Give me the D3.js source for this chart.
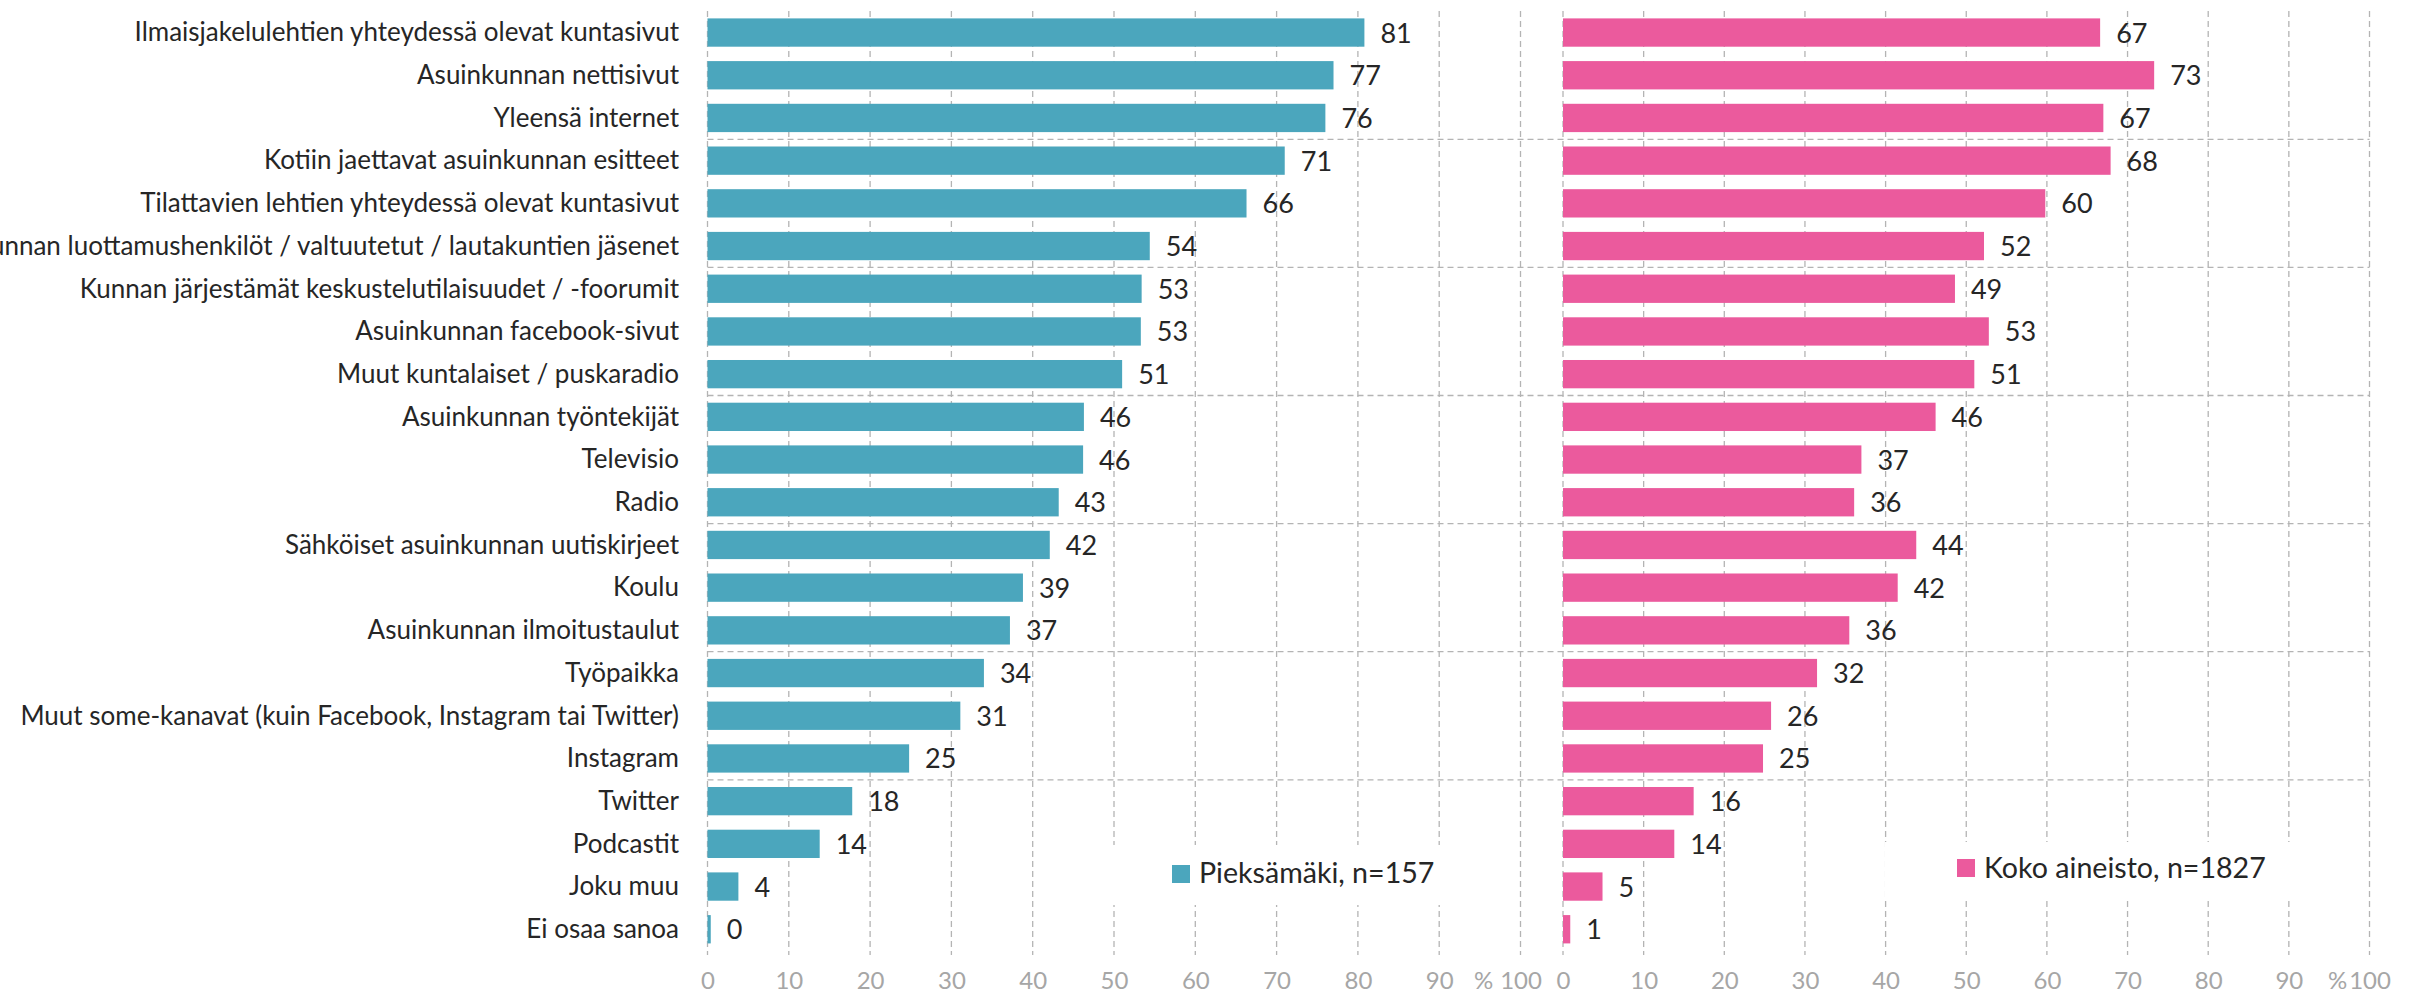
<!DOCTYPE html>
<html>
<head>
<meta charset="utf-8">
<script src="https://cdn.jsdelivr.net/npm/d3@7"></script>
<style>
  html, body { margin: 0; padding: 0; background: #ffffff; }
  svg { display: block; }
  text { font-family: Lato, "Open Sans", sans-serif; }
</style>
</head>
<body>
<svg id="chart" width="2409" height="995"></svg>
<script>
const categories = [
  "Ilmaisjakelulehtien yhteydessä olevat kuntasivut",
  "Asuinkunnan nettisivut",
  "Yleensä internet",
  "Kotiin jaettavat asuinkunnan esitteet",
  "Tilattavien lehtien yhteydessä olevat kuntasivut",
  "Kunnan luottamushenkilöt / valtuutetut / lautakuntien jäsenet",
  "Kunnan järjestämät keskustelutilaisuudet / -foorumit",
  "Asuinkunnan facebook-sivut",
  "Muut kuntalaiset / puskaradio",
  "Asuinkunnan työntekijät",
  "Televisio",
  "Radio",
  "Sähköiset asuinkunnan uutiskirjeet",
  "Koulu",
  "Asuinkunnan ilmoitustaulut",
  "Työpaikka",
  "Muut some-kanavat (kuin Facebook, Instagram tai Twitter)",
  "Instagram",
  "Twitter",
  "Podcastit",
  "Joku muu",
  "Ei osaa sanoa"
];
const pieksamaki = [80.8, 77.0, 76.0, 71.0, 66.3, 54.4, 53.4, 53.3, 51.0, 46.3, 46.2, 43.2, 42.1, 38.8, 37.2, 34.0, 31.1, 24.8, 17.8, 13.8, 3.8, 0.4];
const kokoAineisto = [66.6, 73.3, 67.0, 67.9, 59.8, 52.2, 48.6, 52.8, 51.0, 46.2, 37.0, 36.1, 43.8, 41.5, 35.5, 31.5, 25.8, 24.8, 16.2, 13.8, 4.9, 0.9];
const seriesNames = ["Pieksämäki, n=157", "Koko aineisto, n=1827"];
const seriesColors = ["#4ba6bd", "#eb5a9d"];
const tickValues = [0, 10, 20, 30, 40, 50, 60, 70, 80, 90, 100];
const unitLabel = "%";

const svg = d3.select("#chart");
const gridColor = "#b4b4b4";
const textColor = "#262626";
const tickColor = "#a6a6a6";

const y = d3.scaleBand()
  .domain(categories)
  .range([11.2, 950.6])
  .paddingInner(0.337)
  .paddingOuter(0.1685);

const xLeft = d3.scaleLinear().domain([0, 100]).range([707.5, 1520.5]);
const xRight = d3.scaleLinear().domain([0, 100]).range([1563, 2369.5]);

const gridTop = 11, gridBottom = 955;

// horizontal separators every 3 categories
const sepIdx = [3, 6, 9, 12, 15, 18];
svg.append("g").selectAll("line").data(sepIdx).join("line")
  .attr("x1", xLeft(0)).attr("x2", xRight(100))
  .attr("y1", k => y.range()[0] + k * y.step())
  .attr("y2", k => y.range()[0] + k * y.step())
  .attr("stroke", gridColor).attr("stroke-width", 1.3)
  .attr("stroke-dasharray", "6,4");

function panel(x, values, color, pctOffset) {
  const g = svg.append("g");
  // vertical gridlines
  g.append("g").selectAll("line").data(tickValues).join("line")
    .attr("x1", d => x(d)).attr("x2", d => x(d))
    .attr("y1", gridTop).attr("y2", gridBottom)
    .attr("stroke", gridColor).attr("stroke-width", 1.3)
    .attr("stroke-dasharray", "6,4");
  // bars
  g.append("g").selectAll("rect").data(values).join("rect")
    .attr("x", x(0))
    .attr("y", (d, i) => y(categories[i]))
    .attr("width", d => x(d) - x(0))
    .attr("height", y.bandwidth())
    .attr("fill", color);
  // value labels
  g.append("g").selectAll("text").data(values).join("text")
    .attr("x", d => x(d) + 16)
    .attr("y", (d, i) => y(categories[i]) + y.bandwidth() / 2)
    .attr("dy", "0.37em")
    .attr("font-size", 27)
    .attr("fill", textColor)
    .text(d => Math.round(d));
  // axis tick labels
  const axis = d3.axisBottom(x).tickValues(tickValues).tickSize(0).tickPadding(0);
  const ag = g.append("g").attr("transform", `translate(0, 972)`).call(axis);
  ag.select(".domain").remove();
  ag.selectAll("text")
    .attr("font-family", "Lato, sans-serif")
    .attr("font-size", 24)
    .attr("fill", tickColor)
    .attr("dy", "0.71em");
  g.append("text")
    .attr("x", x(100) - pctOffset)
    .attr("y", 972).attr("dy", "0.71em")
    .attr("text-anchor", "middle")
    .attr("font-size", 24)
    .attr("fill", tickColor)
    .text(unitLabel);
  return g;
}

panel(xLeft, pieksamaki, seriesColors[0], 37);
panel(xRight, kokoAineisto, seriesColors[1], 32);

// category labels
svg.append("g").selectAll("text").data(categories).join("text")
  .attr("x", 679)
  .attr("y", d => y(d) + y.bandwidth() / 2)
  .attr("dy", "0.34em")
  .attr("text-anchor", "end")
  .attr("font-size", 26)
  .attr("fill", textColor)
  .text(d => d);

// legends
const legends = [
  { name: seriesNames[0], color: seriesColors[0], box: [1090, 845, 380, 60], sq: [1172, 865], tx: 1199, ty: 883 },
  { name: seriesNames[1], color: seriesColors[1], box: [1885, 842, 450, 58], sq: [1957, 859], tx: 1984, ty: 878 }
];
legends.forEach(l => {
  const g = svg.append("g");
  g.append("rect").attr("x", l.box[0]).attr("y", l.box[1]).attr("width", l.box[2]).attr("height", l.box[3]).attr("fill", "#ffffff");
  g.append("rect").attr("x", l.sq[0]).attr("y", l.sq[1]).attr("width", 18).attr("height", 18).attr("fill", l.color);
  g.append("text").attr("x", l.tx).attr("y", l.ty).attr("font-size", 28.6).attr("fill", textColor).text(l.name);
});
</script>
</body>
</html>
